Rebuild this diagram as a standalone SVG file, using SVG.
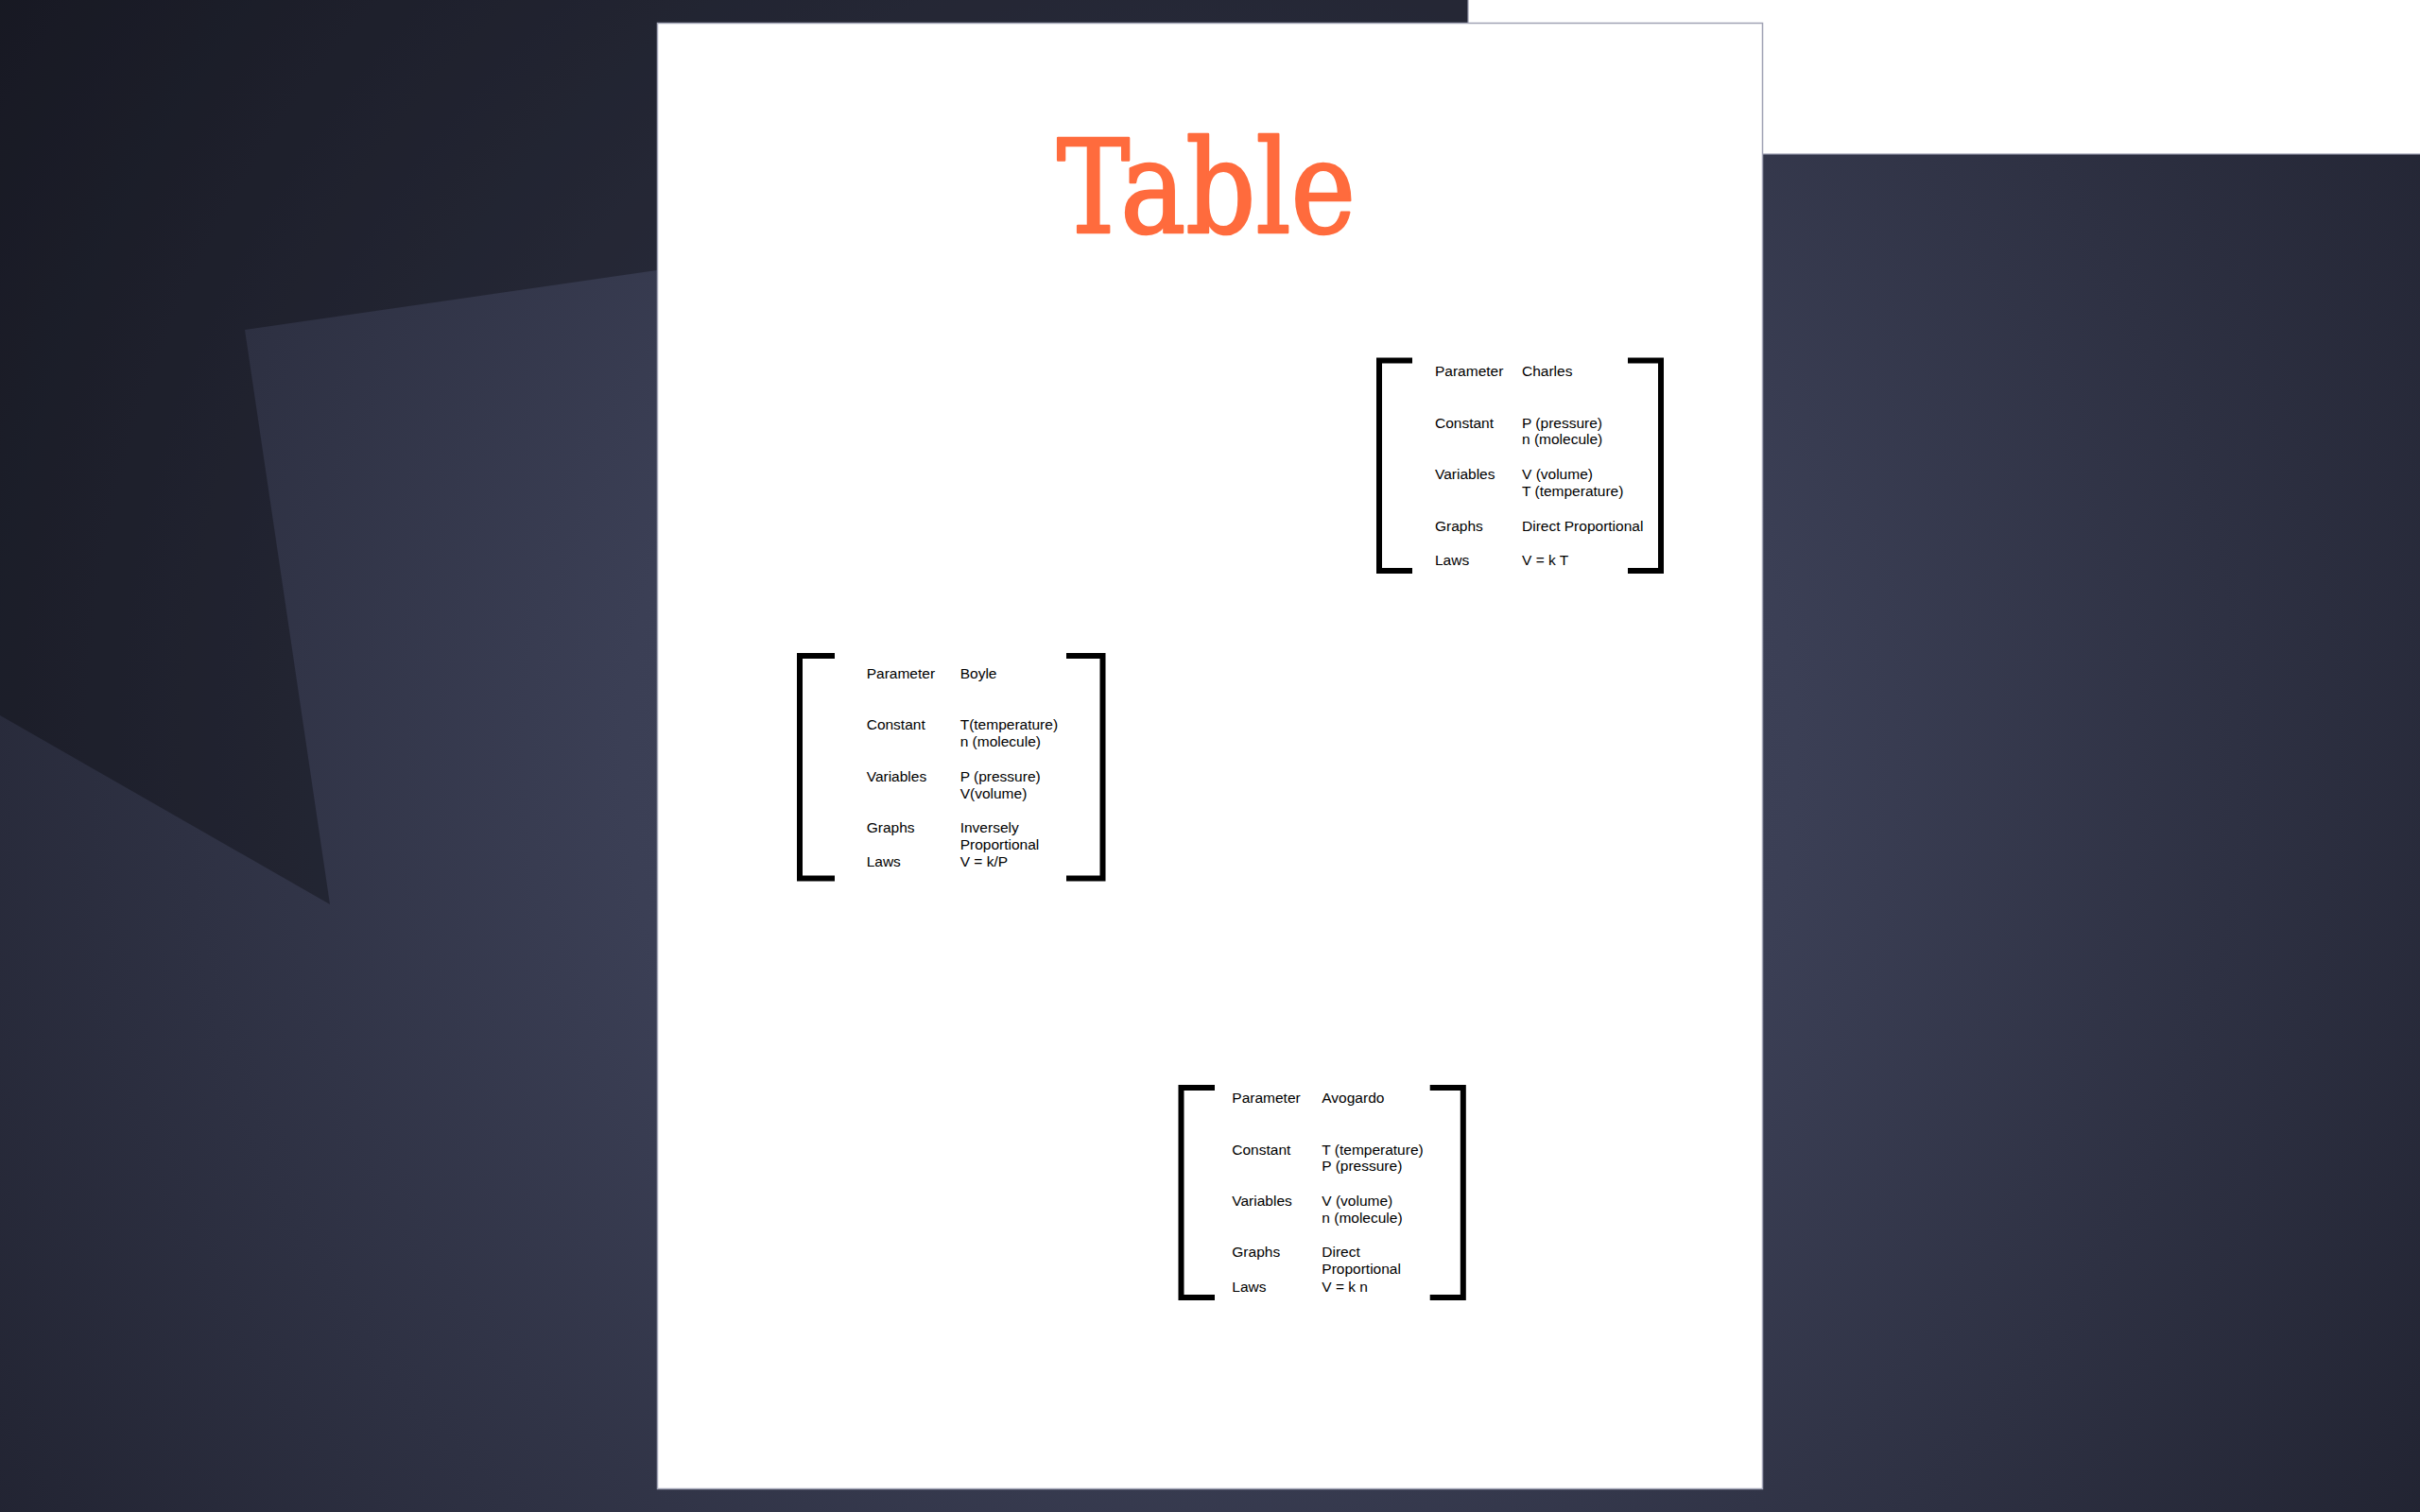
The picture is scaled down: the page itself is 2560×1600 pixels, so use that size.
<svg xmlns="http://www.w3.org/2000/svg" width="2560" height="1600" viewBox="0 0 2560 1600">
<defs>
<radialGradient id="bg" gradientUnits="userSpaceOnUse" cx="1280" cy="800" r="1550">
<stop offset="0" stop-color="#44495f"/>
<stop offset="0.4" stop-color="#3b3f55"/>
<stop offset="1" stop-color="#212331"/>
</radialGradient>
<style>
.br{fill:none;stroke:#000;stroke-width:6;stroke-linejoin:miter;stroke-linecap:butt}
.t{font-family:"Liberation Sans",Arial,sans-serif;font-size:15.5px;fill:#000}
.title{font-family:"DejaVu Serif Condensed","DejaVu Serif","Liberation Serif",serif;font-stretch:condensed;font-size:136px;fill:#ff6b3d;stroke:#ff6b3d;stroke-width:2.5px;stroke-linejoin:round}
</style>
</defs>
<rect x="0" y="0" width="2560" height="1600" fill="url(#bg)"/>
<polygon points="0,0 1600,0 1600,155 259,349 349,957 0,757" fill="#000" fill-opacity="0.3"/>
<rect x="1553" y="-2" width="1010" height="165" fill="#fff" stroke="#9a9cb0" stroke-width="1.2"/>
<rect id="page" x="695.5" y="24.5" width="1169" height="1551" fill="#fff" stroke="#a0a2b4" stroke-width="1.5"/>
<text class="title" x="1118" y="246" textLength="316" lengthAdjust="spacingAndGlyphs">Table</text>
<g id="connectors"/>
<g id="charles">
<path class="br" d="M1494,381.5 H1459 V604 H1494"/>
<path class="br" d="M1722,381.5 H1757 V604 H1722"/>
<text class="t" x="1518" y="397.5">Parameter</text>
<text class="t" x="1610" y="397.5">Charles</text>
<text class="t" x="1518" y="452.5">Constant</text>
<text class="t" x="1610" y="452.5">P (pressure)</text>
<text class="t" x="1610" y="470">n (molecule)</text>
<text class="t" x="1518" y="507">Variables</text>
<text class="t" x="1610" y="507">V (volume)</text>
<text class="t" x="1610" y="524.5">T (temperature)</text>
<text class="t" x="1518" y="561.5">Graphs</text>
<text class="t" x="1610" y="561.5">Direct Proportional</text>
<text class="t" x="1518" y="598">Laws</text>
<text class="t" x="1610" y="598">V = k T</text>
</g>
<g id="boyle">
<path class="br" d="M883,694 H846 V929.5 H883"/>
<path class="br" d="M1128,694 H1166.5 V929.5 H1128"/>
<text class="t" x="916.7" y="717.7">Parameter</text>
<text class="t" x="1015.7" y="717.7">Boyle</text>
<text class="t" x="916.7" y="772.3">Constant</text>
<text class="t" x="1015.7" y="772.3">T(temperature)</text>
<text class="t" x="1015.7" y="790.3">n (molecule)</text>
<text class="t" x="916.7" y="826.7">Variables</text>
<text class="t" x="1015.7" y="826.7">P (pressure)</text>
<text class="t" x="1015.7" y="845">V(volume)</text>
<text class="t" x="916.7" y="881">Graphs</text>
<text class="t" x="1015.7" y="881">Inversely</text>
<text class="t" x="1015.7" y="899">Proportional</text>
<text class="t" x="916.7" y="917.3">Laws</text>
<text class="t" x="1015.7" y="917.3">V = k/P</text>
</g>
<g id="avogardo">
<path class="br" d="M1285,1151 H1249.5 V1373 H1285"/>
<path class="br" d="M1512.7,1151 H1547.8 V1373 H1512.7"/>
<text class="t" x="1303.3" y="1166.7">Parameter</text>
<text class="t" x="1398.3" y="1166.7">Avogardo</text>
<text class="t" x="1303.3" y="1221.7">Constant</text>
<text class="t" x="1398.3" y="1221.7">T (temperature)</text>
<text class="t" x="1398.3" y="1239.3">P (pressure)</text>
<text class="t" x="1303.3" y="1276">Variables</text>
<text class="t" x="1398.3" y="1276">V (volume)</text>
<text class="t" x="1398.3" y="1294.3">n (molecule)</text>
<text class="t" x="1303.3" y="1330">Graphs</text>
<text class="t" x="1398.3" y="1330">Direct</text>
<text class="t" x="1398.3" y="1348.3">Proportional</text>
<text class="t" x="1303.3" y="1366.7">Laws</text>
<text class="t" x="1398.3" y="1366.7">V = k n</text>
</g>
</svg>
